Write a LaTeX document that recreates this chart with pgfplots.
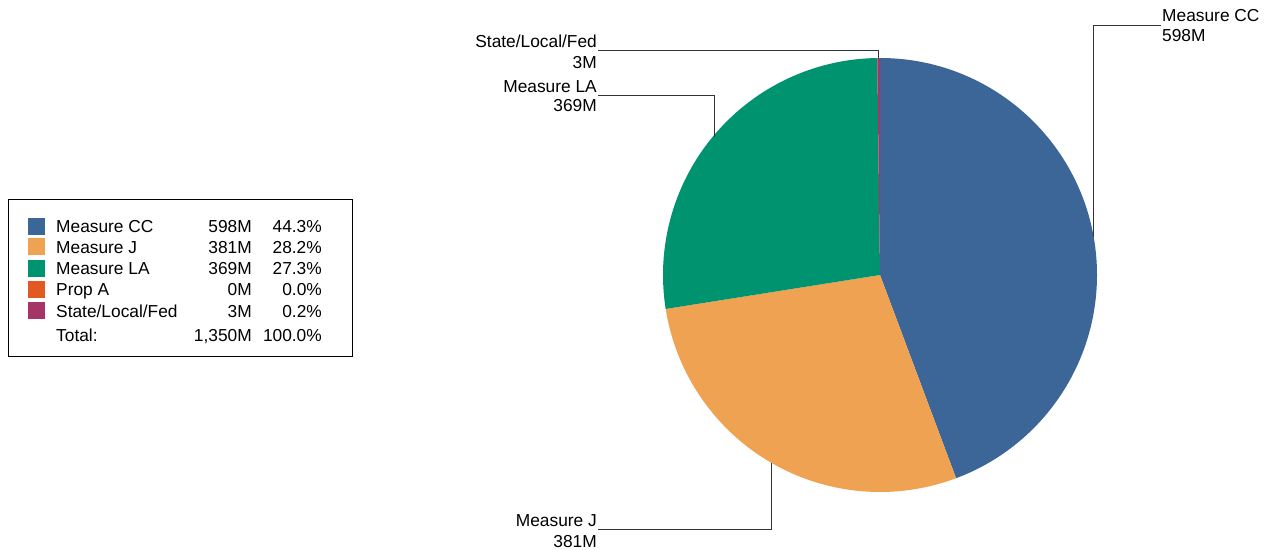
\documentclass[border=0pt]{standalone}
\usepackage{pgfplots}
\pgfplotsset{compat=1.18}
\usepackage{fontspec}
\setmainfont{Liberation Sans}

\definecolor{ccblue}{HTML}{3C6698}
\definecolor{jorange}{HTML}{EFA352}
\definecolor{lagreen}{HTML}{00936F}
\definecolor{propa}{HTML}{E05A22}
\definecolor{stateplum}{HTML}{A53467}
\definecolor{leader}{HTML}{333333}

% slice from cumulative percent #1 to #2, clockwise from 12 o'clock
\newcommand{\slice}[3]{%
  \fill[#3] (axis cs:880,275) -- +({90-3.6*#1}:217bp)
    arc[start angle={90-3.6*#1}, end angle={90-3.6*#2}, radius=217bp] -- cycle;}

\begin{document}
\begin{tikzpicture}[font=\fontsize{17.4}{21}\selectfont,
  every node/.style={inner sep=0, text height=12.4bp, text depth=0bp}]
\begin{axis}[
    width=1274bp, height=550bp, scale only axis,
    xmin=0, xmax=1274, ymin=0, ymax=550,
    y dir=reverse,
    hide axis,
    clip=false,
]
\path (axis cs:0,0) rectangle (axis cs:1274,550);

% pie: 44.3, 28.2, 27.3, 0.0, 0.2 percent
\slice{0}{44.3}{ccblue}
\slice{44.3}{72.5}{jorange}
\slice{72.5}{99.8}{lagreen}
\slice{99.8}{100}{stateplum}

% leader lines
\draw[leader, line width=1bp] (axis cs:1093.5,237) |- (axis cs:1161,26);
\draw[leader, line width=1bp] (axis cs:878.5,58) |- (axis cs:598,51);
\draw[leader, line width=1bp] (axis cs:714,137) |- (axis cs:598,95.5);
\draw[leader, line width=1bp] (axis cs:771,463) |- (axis cs:598,530);

\node[anchor=west] at (axis cs:1162,15) {Measure CC};
\node[anchor=west] at (axis cs:1162,35.5) {598M};
\node[anchor=east] at (axis cs:597,41) {State/Local/Fed};
\node[anchor=east] at (axis cs:597,62) {3M};
\node[anchor=east] at (axis cs:597,86) {Measure LA};
\node[anchor=east] at (axis cs:597,105) {369M};
\node[anchor=east] at (axis cs:597,520) {Measure J};
\node[anchor=east] at (axis cs:597,541) {381M};

% legend table
\draw[black, line width=1bp] (axis cs:8,200) rectangle (axis cs:352,356.5);
\fill[ccblue] (axis cs:28,218) rectangle (axis cs:45,235);
\fill[jorange] (axis cs:28,238.5) rectangle (axis cs:45,255.5);
\fill[lagreen] (axis cs:28,260) rectangle (axis cs:45,277);
\fill[propa] (axis cs:28,281) rectangle (axis cs:45,298);
\fill[stateplum] (axis cs:28,302) rectangle (axis cs:45,319);

\node[anchor=west] at (axis cs:56,226.5) {Measure CC};
\node[anchor=west] at (axis cs:56,247.5) {Measure J};
\node[anchor=west] at (axis cs:56,268.5) {Measure LA};
\node[anchor=west] at (axis cs:56,289.5) {Prop A};
\node[anchor=west] at (axis cs:56,311) {State/Local/Fed};
\node[anchor=west] at (axis cs:56,335) {Total:};

\node[anchor=east] at (axis cs:252,226.5) {598M};
\node[anchor=east] at (axis cs:252,247.5) {381M};
\node[anchor=east] at (axis cs:252,268.5) {369M};
\node[anchor=east] at (axis cs:252,289.5) {0M};
\node[anchor=east] at (axis cs:252,311) {3M};
\node[anchor=east] at (axis cs:252,335) {1,350M};

\node[anchor=east] at (axis cs:322,226.5) {44.3\%};
\node[anchor=east] at (axis cs:322,247.5) {28.2\%};
\node[anchor=east] at (axis cs:322,268.5) {27.3\%};
\node[anchor=east] at (axis cs:322,289.5) {0.0\%};
\node[anchor=east] at (axis cs:322,311) {0.2\%};
\node[anchor=east] at (axis cs:322,335) {100.0\%};
\end{axis}
\end{tikzpicture}
\end{document}
